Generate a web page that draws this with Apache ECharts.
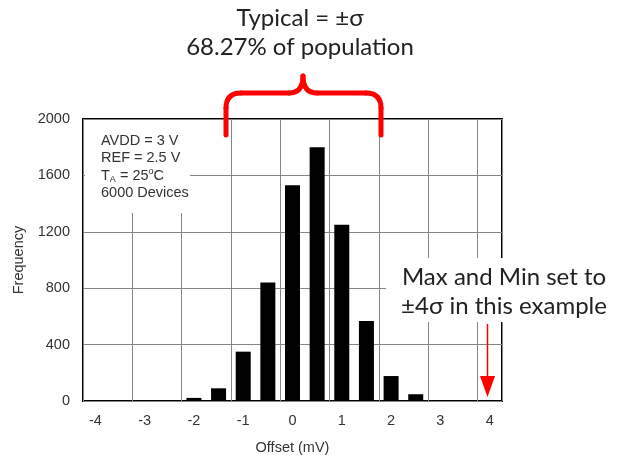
<!DOCTYPE html>
<html>
<head>
<meta charset="utf-8">
<script src="https://cdn.jsdelivr.net/npm/echarts@6/dist/echarts.min.js"></script>
<style>
  html, body { margin: 0; padding: 0; background: #fff; }
  #chart { width: 623px; height: 455px; }
</style>
</head>
<body>
<div id="chart"></div>
<script>
// histogram bins (mV) and device counts
var offsets = [-2, -1.5, -1, -0.5, 0, 0.5, 1, 1.5, 2, 2.5];
var counts = [22, 90, 350, 840, 1530, 1800, 1250, 568, 177, 48];
var xTicks = [-4, -3, -2, -1, 0, 1, 2, 3, 4];
var yTicks = [0, 400, 800, 1200, 1600, 2000];

var myChart = echarts.init(document.getElementById('chart'));

var barData = offsets.map(function (x, i) { return [x, counts[i]]; });

var red = '#ff0000';
function braceLine(x1, y1, x2, y2) {
    return { type: 'line', z: 6, shape: { x1: x1, y1: y1, x2: x2, y2: y2 },
        style: { stroke: red, lineWidth: 5, lineCap: 'round' } };
}
function braceCurve(x1, y1, cx, cy, x2, y2) {
    return { type: 'bezierCurve', z: 6, shape: { x1: x1, y1: y1, cpx1: cx, cpy1: cy, x2: x2, y2: y2 },
        style: { stroke: red, lineWidth: 5, fill: 'none', lineCap: 'round' } };
}

var axisFont = { color: '#333', fontSize: 14.5, fontFamily: 'Liberation Sans' };

var option = {
    animation: false,
    backgroundColor: '#fff',
    grid: {
        left: 83, right: 121, top: 119, bottom: 54,
        outerBoundsMode: 'none',
        show: true, borderColor: '#000', borderWidth: 2, backgroundColor: 'transparent'
    },
    xAxis: {
        type: 'value',
        min: -4.25, max: 4.25, interval: 1,
        axisLine: { show: false },
        axisTick: { show: false },
        splitLine: { show: true, lineStyle: { color: '#858585', width: 1 } },
        axisLabel: Object.assign({ customValues: xTicks, margin: 12 }, axisFont),
        name: 'Offset (mV)',
        nameLocation: 'middle',
        nameGap: 39,
        nameTextStyle: axisFont
    },
    yAxis: {
        type: 'value',
        min: 0, max: 2000, interval: 400,
        axisLine: { show: false },
        axisTick: { show: false },
        splitLine: { show: true, lineStyle: { color: '#858585', width: 1 } },
        axisLabel: Object.assign({
            margin: 13,
            formatter: function (v) { return yTicks.indexOf(v) >= 0 ? String(v) : ''; }
        }, axisFont),
        name: 'Frequency',
        nameLocation: 'middle',
        nameGap: 50,
        nameRotate: 90,
        nameTextStyle: axisFont
    },
    series: [{
        type: 'bar',
        data: barData,
        barWidth: 15,
        itemStyle: { color: '#000' },
        z: 3
    }],
    graphic: [
        // white box behind the condition text
        { type: 'rect', z: 1, shape: { x: 85, y: 120, width: 105, height: 93 }, style: { fill: '#fff' } },
        {
            type: 'text', z: 2, x: 101, y: 132,
            style: {
                text: '{a|AVDD = 3 V}\n{a|REF = 2.5 V}\n{a|T}{sub|A}{a| = 25}{sup|o}{a|C}\n{a|6000 Devices}',
                rich: {
                    a: { fontSize: 14.5, fontFamily: 'Liberation Sans', fill: '#333', lineHeight: 17.5 },
                    sub: { fontSize: 9, fontFamily: 'Liberation Sans', fill: '#333', lineHeight: 9, verticalAlign: 'bottom' },
                    sup: { fontSize: 9, fontFamily: 'Liberation Sans', fill: '#333', lineHeight: 9, verticalAlign: 'top' }
                }
            }
        },
        // top annotation
        {
            type: 'text', z: 5, x: 300, y: 18,
            style: { text: 'Typical = \u00b1\u03c3', fontSize: 24, fontFamily: 'Lato', fill: '#222', align: 'center', verticalAlign: 'middle' }
        },
        {
            type: 'text', z: 5, x: 300, y: 47,
            style: { text: '68.27% of population', fontSize: 24, fontFamily: 'Lato', fill: '#222', align: 'center', verticalAlign: 'middle' }
        },
        braceLine(226, 135, 226, 108),
        braceCurve(226, 108, 226, 93, 241, 93),
        braceLine(241, 93, 289, 93),
        braceCurve(289, 93, 303, 93, 303, 76),
        braceCurve(303, 76, 303, 93, 317, 93),
        braceLine(317, 93, 366, 93),
        braceCurve(366, 93, 381, 93, 381, 108),
        braceLine(381, 108, 381, 135),
        // right annotation
        { type: 'rect', z: 4, shape: { x: 386, y: 258, width: 230, height: 64 }, style: { fill: '#fff' } },
        {
            type: 'text', z: 5, x: 504, y: 277,
            style: { text: 'Max and Min set to', fontSize: 24, fontFamily: 'Lato', fill: '#222', align: 'center', verticalAlign: 'middle' }
        },
        {
            type: 'text', z: 5, x: 504, y: 306,
            style: { text: '\u00b14\u03c3 in this example', fontSize: 24, fontFamily: 'Lato', fill: '#222', align: 'center', verticalAlign: 'middle' }
        },
        {
            type: 'line', z: 6,
            shape: { x1: 487.5, y1: 324, x2: 487.5, y2: 378 },
            style: { stroke: red, lineWidth: 1.5 }
        },
        {
            type: 'polygon', z: 6,
            shape: { points: [[480, 376], [495, 376], [487.5, 397]] },
            style: { fill: red }
        }
    ]
};

myChart.setOption(option);
</script>
</body>
</html>
